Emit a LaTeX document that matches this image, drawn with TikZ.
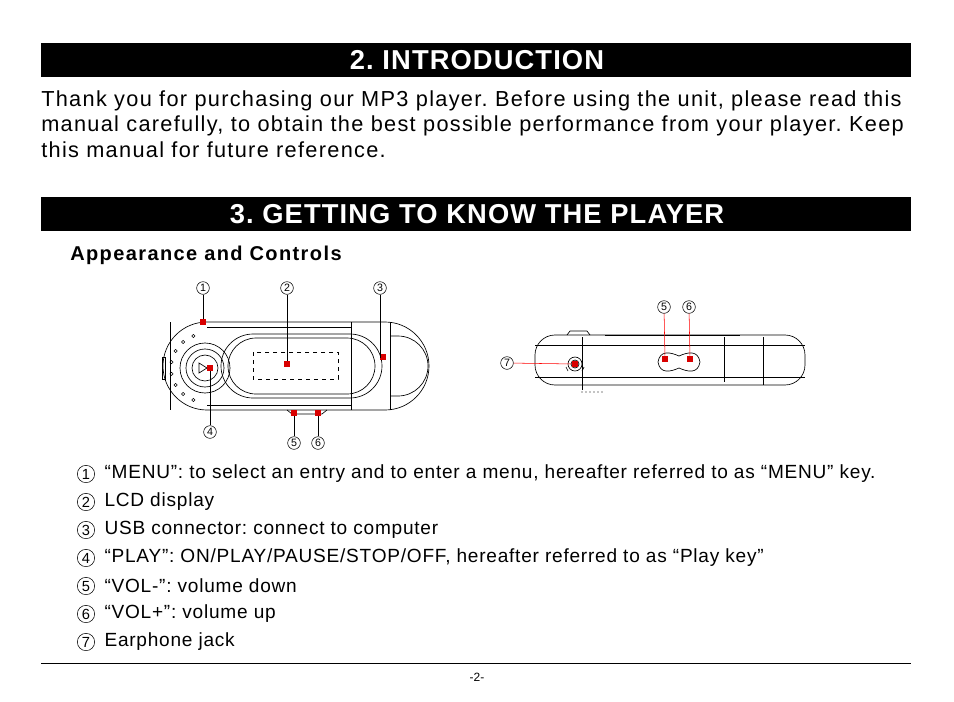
\documentclass[tikz,border=0pt]{standalone}
\usepackage{fontspec}
\setmainfont{Liberation Sans}
\usetikzlibrary{positioning}
\frenchspacing
\tikzset{
  bar/.style={fill=black},
  bartext/.style={text=white,font=\fontsize{20.5}{22}\selectfont\bfseries\addfontfeature{LetterSpace=4}},
  body/.style={font=\fontsize{16.3}{18}\selectfont,anchor=west,inner sep=0pt},
  item/.style={font=\fontsize{14.3}{16}\selectfont,anchor=west,inner sep=0pt},
  num/.style={draw,circle,inner sep=0pt,minimum size=9.5pt,text height=5.5pt,text depth=0pt,font=\fontsize{8}{8}\selectfont},
  bignum/.style={draw,circle,inner sep=0pt,minimum size=13pt,text height=8pt,text depth=0pt,font=\fontsize{11}{11}\selectfont},
  redmark/.style={fill=red!85!black,minimum size=4.5pt,inner sep=0pt},
  part/.style={line width=0.5pt}
}
\begin{document}
\begin{tikzpicture}[x=0.75pt,y=-0.75pt]
\useasboundingbox (0,0) rectangle (954,701);
% headings
\fill[bar] (41,43) rectangle (911,77);
\node[bartext] (intro) at (477,60) {2. INTRODUCTION};
\node[body] (t1) at (41,101) {\addfontfeature{LetterSpace=6}Thank you for purchasing our MP3 player. Before using the unit, please read this};
\node[body] (t2) at (41,126) {\addfontfeature{LetterSpace=6}manual carefully, to obtain the best possible performance from your player. Keep};
\node[body] (t3) at (41,150) {\addfontfeature{LetterSpace=6}this manual for future reference.};
\fill[bar] (41,197) rectangle (911,231);
\node[bartext] (know) at (477,214) {3. GETTING TO KNOW THE PLAYER};
\node[body,font=\fontsize{15}{16}\selectfont\bfseries] (app) at (70,255) {\addfontfeature{LetterSpace=7}Appearance and Controls};
% front view
\draw[part] (207,322) -- (385,322) arc (-90:90:44) -- (207,410) arc (90:270:44) -- cycle;
\draw[part] (170,322) -- (170,410);
\draw[part] (351,322) -- (351,410) (390,322) -- (390,410);
\draw[part] (207,327) -- (351,327) (207,405) -- (351,405);
\draw[part] (253,334) -- (350,334) arc (-90:90:32) -- (253,398) arc (90:270:32) -- cycle;
\draw[part] (256,338) -- (347,338) arc (-90:90:28) -- (256,394) arc (90:270:28) -- cycle;
\draw[part] (391,336) -- (398,336) arc (-90:90:30) -- (391,396);
\draw[dashed] (253,352) rectangle (338,379);
\draw[part] (205,368) circle (25) circle (19) circle (13);
\draw[part] (199,363) -- (207,368) -- (199,373) -- cycle;
\foreach \a in {110,130,...,250}
  \draw (205,368) ++(\a:34) circle (1.6);
\draw[part] (162,357) rectangle (165,379);
\draw[part] (287,410) -- (292,414) -- (322,414) -- (327,410);
\node[redmark] (m1) at (203,322) {};
\node[redmark] (m2) at (287,364) {};
\node[redmark] (m3) at (383,357) {};
\node[redmark] (m4) at (210,368) {};
\node[redmark] (m5) at (294,413) {};
\node[redmark] (m6) at (318,413) {};
\node[num] (n1) at (203,288) {1};
\node[num] (n2) at (287,288) {2};
\node[num] (n3) at (380,288) {3};
\node[num] (n4) at (210,432) {4};
\node[num] (n5) at (294,443) {5};
\node[num] (n6) at (318,443) {6};
\draw (n1) -- (m1);
\draw (n2) -- (m2);
\draw (n3) -- (n3 |- m3) -- (m3);
\draw (n4) -- (m4);
\draw (n5) -- (m5);
\draw (n6) -- (m6);
% side view
\draw[part,rounded corners=15] (535,335) rectangle (805,385);
\draw[part] (567,335) -- (570,331) -- (587,331) -- (590,335);
\draw[part] (605,335) -- (740,335);
\draw[part] (724,337) -- (724,382) (763,337) -- (763,385);
\draw[part] (535,345) -- (805,345) (535,377) -- (805,377);
\draw[part] (582,337) -- (582,390);
\draw[part] (575,364) circle (7) circle (4);
\draw[part] (566,367) -- (568,371) (584,367) -- (582,371);
\draw[part] (658,362) .. controls (660,350) and (670,352) .. (679,356)
  .. controls (688,352) and (698,350) .. (700,362)
  .. controls (698,374) and (688,372) .. (679,368)
  .. controls (670,372) and (660,374) .. cycle;
\foreach \i in {0,...,5} \fill (582+\i*4,392) circle (0.7);
\node[redmark] (m5b) at (665,359) {};
\node[redmark] (m6b) at (690,359) {};
\node[redmark] (m7) at (575,364) {};
\node[num] (n5b) at (664,307) {5};
\node[num] (n6b) at (689,307) {6};
\node[num] (n7) at (507,363) {7};
\draw[red] (n5b) -- (m5b);
\draw[red] (n6b) -- (m6b);
\draw[red] (n7) -- (m7);
% list
\foreach \n/\y/\txt in {
  1/474/{“MENU”: to select an entry and to enter a menu, hereafter referred to as “MENU” key.},
  2/502/{LCD display},
  3/530/{USB connector: connect to computer},
  4/558/{“PLAY”: ON/PLAY/PAUSE/STOP/OFF, hereafter referred to as “Play key”},
  5/586/{“VOL-”: volume down},
  6/614/{“VOL+”: volume up},
  7/642/{Earphone jack}} {
  \node[bignum] (c\n) at (86,\y) {\n};
  \node[item,right=7pt of c\n] (l\n) {\addfontfeature{LetterSpace=4}\txt};
}
% footer
\draw (41,663) -- (911,663);
\node[font=\fontsize{9}{10}\selectfont] (page) at (477,677) {-2-};
\end{tikzpicture}
\end{document}
